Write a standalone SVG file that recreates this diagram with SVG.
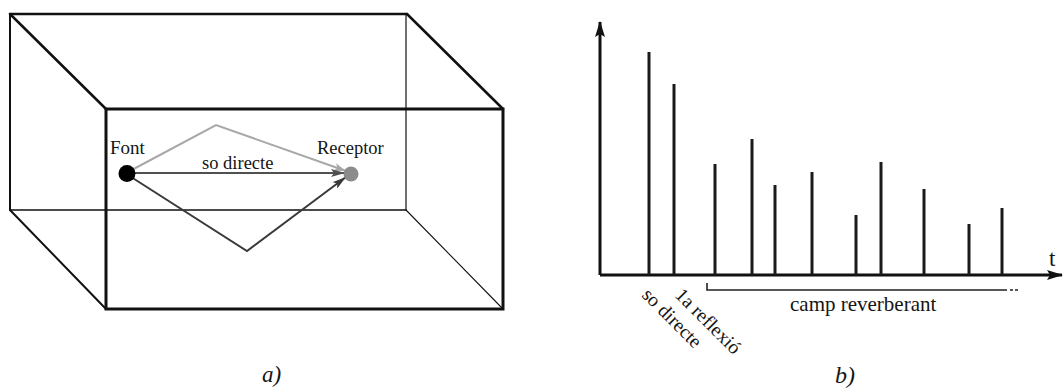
<svg xmlns="http://www.w3.org/2000/svg" width="1063" height="389" viewBox="0 0 1063 389">
  <style>
    .txt { font-family: "Liberation Serif", "Times New Roman", serif; fill: #151515; }
    .it { font-family: "Liberation Serif", "Times New Roman", serif; font-style: italic; fill: #151515; }
    .edge { stroke: #111; fill: none; stroke-linecap: round; }
    .bar { stroke: #1a1a1a; stroke-width: 3; }
  </style>
  <defs>
    <marker id="ahLight" viewBox="0 0 12 8" refX="12" refY="4" markerWidth="12" markerHeight="8" markerUnits="userSpaceOnUse" orient="auto">
      <path d="M0,0 L12,4 L0,8 L3,4 Z" fill="#a8a8a8"/>
    </marker>
    <marker id="ahMid" viewBox="0 0 14 8" refX="14" refY="4" markerWidth="14" markerHeight="8" markerUnits="userSpaceOnUse" orient="auto">
      <path d="M0,0 L14,4 L0,8 L3,4 Z" fill="#505050"/>
    </marker>
    <marker id="ahDark" viewBox="0 0 14 8" refX="14" refY="4" markerWidth="14" markerHeight="8" markerUnits="userSpaceOnUse" orient="auto">
      <path d="M0,0 L14,4 L0,8 L3,4 Z" fill="#3a3a3a"/>
    </marker>
    <marker id="axHead" viewBox="0 0 16 10" refX="15" refY="5" markerWidth="16" markerHeight="10" markerUnits="userSpaceOnUse" orient="auto">
      <path d="M0,0 L16,5 L0,10 L3,5 Z" fill="#111"/>
    </marker>
  </defs>

  <!-- Panel a: room box -->
  <g id="room">
    <!-- back face -->
    <line class="edge" x1="10" y1="14" x2="407" y2="14" stroke-width="2.5"/>
    <line class="edge" x1="10" y1="14" x2="10" y2="210" stroke-width="2"/>
    <line class="edge" x1="406" y1="14" x2="406" y2="210" stroke-width="1.2"/>
    <line class="edge" x1="10" y1="210" x2="406" y2="210" stroke-width="1.5"/>
    <!-- depth edges -->
    <line class="edge" x1="10" y1="14" x2="106" y2="109" stroke-width="2.5"/>
    <line class="edge" x1="407" y1="14" x2="503" y2="109" stroke-width="2.5"/>
    <line class="edge" x1="10" y1="210" x2="106" y2="309" stroke-width="2"/>
    <line class="edge" x1="406" y1="210" x2="503" y2="309" stroke-width="1.1"/>
    <!-- front face -->
    <rect x="106" y="109" width="397" height="200" fill="none" stroke="#111" stroke-width="3"/>
  </g>

  <g id="connectors">
    <polyline points="128,172 216,125 346,171" fill="none" stroke="#a8a8a8" stroke-width="2" marker-end="url(#ahLight)"/>
    <line x1="128" y1="173" x2="345" y2="173" stroke="#505050" stroke-width="2" marker-end="url(#ahMid)"/>
    <polyline points="128,175 247,251 346,177" fill="none" stroke="#3a3a3a" stroke-width="2" marker-end="url(#ahDark)"/>
  </g>

  <g id="font-node">
    <circle cx="127" cy="173.5" r="8.5" fill="#000"/>
    <text class="txt" x="110" y="154" font-size="19">Font</text>
  </g>
  <g id="receptor-node">
    <circle cx="351" cy="174" r="7.5" fill="#8c8c8c"/>
    <text class="txt" x="317" y="154" font-size="18.5">Receptor</text>
  </g>
  <text class="txt" x="202" y="169" font-size="18.5">so directe</text>
  <text class="it" x="262" y="382" font-size="23">a)</text>

  <!-- Panel b: impulse response -->
  <g id="chart">
    <line x1="600" y1="275" x2="600" y2="22" stroke="#111" stroke-width="3" marker-end="url(#axHead)"/>
    <line x1="600" y1="275" x2="1062" y2="275" stroke="#111" stroke-width="3" marker-end="url(#axHead)"/>
    <line class="bar" x1="649" y1="275" x2="649" y2="52"/>
    <line class="bar" x1="674" y1="275" x2="674" y2="84"/>
    <line class="bar" x1="715" y1="275" x2="715" y2="164"/>
    <line class="bar" x1="752" y1="275" x2="752" y2="139"/>
    <line class="bar" x1="775" y1="275" x2="775" y2="185"/>
    <line class="bar" x1="812" y1="275" x2="812" y2="172"/>
    <line class="bar" x1="856" y1="275" x2="856" y2="215"/>
    <line class="bar" x1="881" y1="275" x2="881" y2="162"/>
    <line class="bar" x1="924" y1="275" x2="924" y2="189"/>
    <line class="bar" x1="969" y1="275" x2="969" y2="224"/>
    <line class="bar" x1="1002" y1="275" x2="1002" y2="208"/>
    <text class="txt" x="1049" y="266" font-size="23">t</text>
  </g>

  <g id="reverb-bracket">
    <polyline points="707,283 707,290 1007,290" fill="none" stroke="#222" stroke-width="1.6"/>
    <line x1="1010" y1="290" x2="1019" y2="290" stroke="#222" stroke-width="1.6" stroke-dasharray="3,2"/>
    <text class="txt" x="790" y="311" font-size="21">camp reverberant</text>
  </g>

  <g id="time-labels">
    <text class="txt" font-size="19.5" transform="translate(641,296) rotate(45)">so directe</text>
    <text class="txt" font-size="19.5" transform="translate(674,296) rotate(45)">1a reflexió</text>
  </g>
  <text class="it" x="835" y="383" font-size="24">b)</text>
</svg>
